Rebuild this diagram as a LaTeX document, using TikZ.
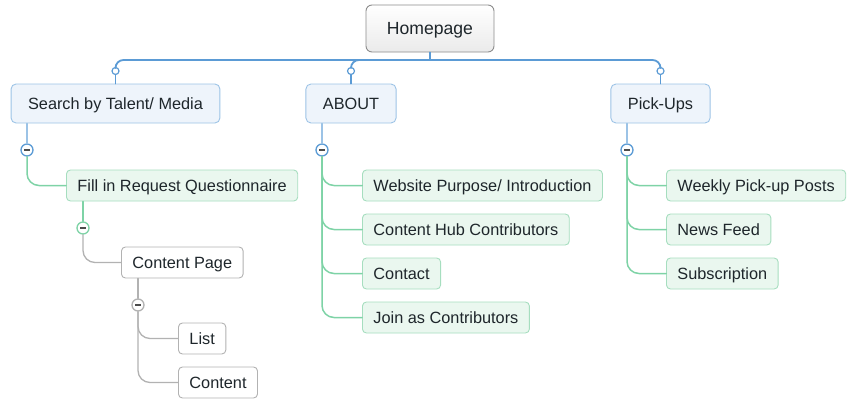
\documentclass[tikz,border=0pt]{standalone}
\usepackage{fontspec}
\setmainfont{Liberation Sans}
\usetikzlibrary{positioning}
\definecolor{trunkblue}{HTML}{5B9BD5}
\definecolor{topicfill}{HTML}{EEF4FB}
\definecolor{topicdraw}{HTML}{9CC3E6}
\definecolor{subfill}{HTML}{EAF7EF}
\definecolor{subdraw}{HTML}{A6DEBF}
\definecolor{greenline}{HTML}{7ED3A6}
\definecolor{grayline}{HTML}{B2B2B2}
\definecolor{inktext}{HTML}{1E262B}
\tikzstyle{every node}=[font=\fontsize{16.3}{19}\selectfont, text=inktext, text height=11.7pt, text depth=0pt]
\tikzstyle{every path}=[line cap=round,line join=round]
\tikzstyle{rootbox}=[draw=black!45, line width=0.9pt, rounded corners=6pt, top color=white, bottom color=black!8, minimum width=128pt, minimum height=47pt, font=\fontsize{17.6}{20}\selectfont, text height=12.6pt]
\tikzstyle{topicbox}=[draw=topicdraw, fill=topicfill, line width=0.9pt, rounded corners=5pt, inner xsep=17pt, minimum height=39pt]
\tikzstyle{subbox}=[draw=subdraw, fill=subfill, line width=0.9pt, rounded corners=4pt, inner xsep=11pt, minimum height=31pt, anchor=west]
\tikzstyle{leafbox}=[draw=grayline, fill=white, line width=0.9pt, rounded corners=4pt, inner xsep=11pt, minimum height=31pt, anchor=west]
\tikzstyle{joint}=[circle, draw=trunkblue, fill=white, line width=1.2pt, inner sep=0pt, minimum size=7pt, text height=, text depth=]
\tikzstyle{fold}=[circle, fill=white, line width=1.3pt, inner sep=0pt, minimum size=12pt, text height=, text depth=,
  path picture={\draw[line width=1.8pt, black!70, line cap=butt]
    ([xshift=-2.6pt]path picture bounding box.center) -- ([xshift=2.6pt]path picture bounding box.center);}]
\tikzstyle{trunk}=[draw=trunkblue, line width=1.8pt, rounded corners=8pt]
\tikzstyle{bluelink}=[draw=topicdraw, line width=1.3pt]
\tikzstyle{greenlink}=[draw=greenline, line width=1.5pt, rounded corners=12pt]
\tikzstyle{graylink}=[draw=grayline, line width=1.3pt, rounded corners=12pt]

\begin{document}
\begin{tikzpicture}[x=1pt,y=-1pt]
  \useasboundingbox (0,0) rectangle (847,399);
  % root and first level
  \node[rootbox] (home) at (430,28.5) {Homepage};
  \node[topicbox] (search) at (115.5,103.5) {Search by Talent/ Media};
  \node[topicbox] (about) at (351,103.5) {ABOUT};
  \node[topicbox] (pickups) at (660.5,103.5) {Pick-Ups};
  \node[joint] (jsearch) at (115.5,71) {};
  \node[joint] (jabout) at (351,71) {};
  \node[joint] (jpickups) at (660.5,71) {};
  \coordinate (bar) at (430,60);
  \draw[trunk] (jsearch.north) |- (bar -| jpickups) -- (jpickups.north);
  \draw[trunk] (jabout.north) |- (bar);
  \draw[trunk] (home.south) -- (bar);
  \foreach \t in {search,about,pickups}
    \draw[trunk] (j\t.south) -- (\t.north);

  % second and third level
  \node[subbox] (quest) at (66,185.5) {Fill in Request Questionnaire};
  \node[leafbox] (cpage) at (121,262.5) {Content Page};
  \node[leafbox] (list) at (178,338.5) {List};
  \node[leafbox] (content) at (178,382.5) {Content};

  \node[subbox] (purpose) at (362,185.5) {Website Purpose/ Introduction};
  \node[subbox] (hub) at (362,229.5) {Content Hub Contributors};
  \node[subbox] (contact) at (362,273.5) {Contact};
  \node[subbox] (join) at (362,317.5) {Join as Contributors};

  \node[subbox] (weekly) at (666,185.5) {Weekly Pick-up Posts};
  \node[subbox] (news) at (666,229.5) {News Feed};
  \node[subbox] (subs) at (666,273.5) {Subscription};

  % fold buttons
  \node[fold, draw=trunkblue] (fsearch) at (27,150) {};
  \node[fold, draw=trunkblue] (fabout) at (322,150) {};
  \node[fold, draw=trunkblue] (fpickups) at (627,150) {};
  \node[fold, draw=greenline] (fquest) at (83,228) {};
  \node[fold, draw=grayline] (fcpage) at (138,305) {};

  \draw[bluelink] (fsearch |- search.south) -- (fsearch.north);
  \draw[bluelink] (fabout |- about.south) -- (fabout.north);
  \draw[bluelink] (fpickups |- pickups.south) -- (fpickups.north);
  \draw[greenlink] (fquest |- quest.south) -- (fquest.north);
  \draw[graylink] (fcpage |- cpage.south) -- (fcpage.north);

  % branches
  \draw[greenlink] (fsearch.south) |- (quest.west);
  \draw[graylink] (fquest.south) |- (cpage.west);
  \foreach \n in {list,content}
    \draw[graylink] (fcpage.south) |- (\n.west);
  \foreach \n in {purpose,hub,contact,join}
    \draw[greenlink] (fabout.south) |- (\n.west);
  \foreach \n in {weekly,news,subs}
    \draw[greenlink] (fpickups.south) |- (\n.west);
\end{tikzpicture}
\end{document}
